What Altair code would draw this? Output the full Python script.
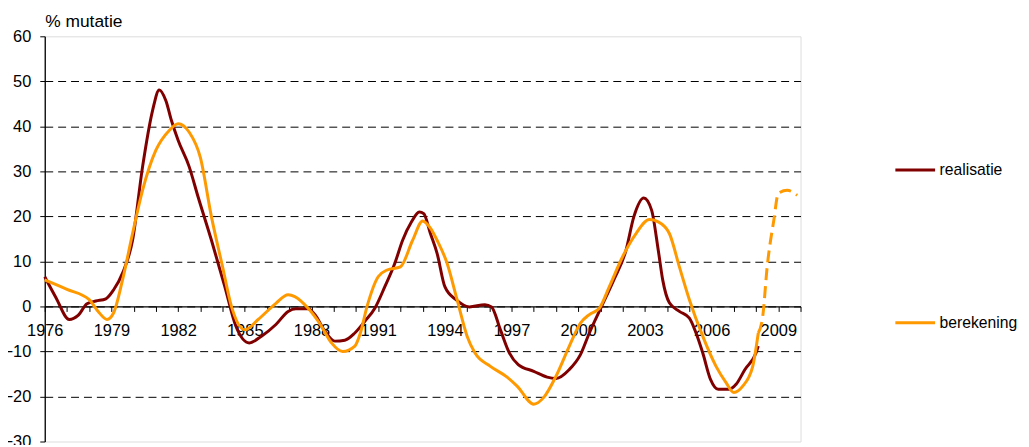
import altair as alt
import pandas as pd

# ---- data ----
real_years = [1976.0, 1976.5, 1977.1, 1977.5, 1977.9, 1978.3, 1978.75, 1979.1, 1979.5, 1979.95,
              1980.4, 1980.85, 1981.15, 1981.45, 1981.7, 1982.0, 1982.5, 1982.9, 1983.5, 1984.1,
              1984.6, 1985.2, 1985.75, 1986.4, 1986.95, 1987.3, 1987.85, 1988.15, 1988.6, 1989.05,
              1989.5, 1989.95, 1990.4, 1990.85, 1991.3, 1991.75, 1992.1, 1992.5, 1992.85, 1993.05,
              1993.35, 1993.65, 1994.0, 1994.5, 1995.1, 1995.8, 1996.1, 1996.5, 1996.9, 1997.3,
              1998.0, 1998.6, 1999.0, 1999.6, 2000.1, 2000.5, 2001.05, 2001.6, 2002.15, 2002.5,
              2002.95, 2003.3, 2003.6, 2003.8, 2004.1, 2004.55, 2005.0, 2005.3, 2005.6, 2005.95,
              2006.3, 2006.8, 2007.1, 2007.5, 2008.0, 2008.1]
real_vals = [6.6, 2.0, -2.9, -2.0, 0.6, 1.2, 1.7, 3.7, 7.4, 14.7,
             31.0, 43.5, 48.1, 45.7, 41.3, 36.9, 31.0, 24.3, 14.7, 4.4,
             -4.4, -8.1, -6.6, -4.0, -1.1, -0.5, -0.5, -1.8, -5.5, -7.7,
             -7.5, -5.9, -3.3, -0.4, 4.4, 9.6, 14.7, 18.8, 21.0, 20.6,
             16.2, 11.8, 4.4, 1.5, -0.1, 0.4, -0.1, -5.2, -10.3, -12.9,
             -14.4, -15.7, -16.0, -14.0, -10.7, -5.9, 0.0, 5.9, 12.5, 19.9,
             24.1, 21.4, 12.5, 5.9, 0.8, -1.1, -2.6, -5.9, -10.3, -16.2,
             -18.4, -18.4, -17.3, -14.0, -10.3, -8.8]

ber_years = [1976.0, 1977.0, 1978.0, 1978.45, 1978.8, 1979.1, 1979.5, 1979.95, 1980.4, 1981.0,
             1981.6, 1982.0, 1982.5, 1983.0, 1983.5, 1984.0, 1984.4, 1985.0, 1985.6, 1986.4,
             1986.95, 1987.25, 1987.85, 1988.4, 1988.9, 1989.4, 1989.95, 1990.2, 1990.5, 1991.0,
             1991.4, 1992.0, 1992.55, 1993.0, 1993.35, 1993.65, 1994.1, 1994.55, 1995.0, 1995.35,
             1996.05, 1996.8, 1997.25, 1998.0, 1998.45, 1999.0, 1999.6, 2000.1, 2000.5, 2000.95,
             2001.4, 2002.0, 2002.6, 2003.2, 2003.6, 2004.1, 2004.55, 2005.0, 2005.6, 2006.2,
             2006.65, 2007.0, 2007.4, 2007.85, 2008.1]
ber_vals = [5.9, 3.8, 1.5, -1.4, -2.9, -1.4, 5.9, 16.2, 25.8, 34.7,
            39.1, 40.6, 38.7, 33.1, 19.9, 8.8, 0.0, -5.2, -2.9, 0.7,
            2.6, 2.2, -0.4, -4.0, -8.1, -10.0, -8.8, -5.9, 0.0, 6.6,
            8.1, 8.8, 14.7, 19.0, 17.4, 14.7, 9.6, 1.5, -6.6, -10.3,
            -13.3, -15.7, -17.7, -21.7, -20.2, -15.5, -8.8, -3.7, -1.8, -0.4,
            4.4, 11.1, 16.2, 19.3, 18.8, 16.2, 8.8, 1.5, -6.6, -13.3,
            -16.9, -19.1, -17.7, -13.3, -5.9]

proj_years = [2008.1, 2008.3, 2008.5, 2008.8, 2009.0, 2009.4, 2009.85]
proj_vals = [-5.9, -2.2, 8.8, 19.2, 25.1, 25.8, 24.7]

series = ["realisatie", "berekening"]
colors = ["#800000", "#FF9900"]
x_ticks = list(range(1976, 2011))
y_ticks = list(range(-30, 61, 10))

FONT = "Liberation Sans"
W, H = 761, 408

df_main = pd.concat([
    pd.DataFrame({"jaar": real_years, "waarde": real_vals, "reeks": series[0]}),
    pd.DataFrame({"jaar": ber_years, "waarde": ber_vals, "reeks": series[1]}),
])
df_proj = pd.DataFrame({"jaar": proj_years, "waarde": proj_vals})

x_enc = alt.X("jaar:Q",
              scale=alt.Scale(domain=[1976, 2010], nice=False, zero=False),
              axis=alt.Axis(values=x_ticks, title=None,
                            labelExpr="(datum.value - 1976) % 3 == 0 ? datum.value : ''",
                            offset=-H / 3, tickSize=5, labelPadding=11,
                            labelFont=FONT, labelFontSize=16.5, labelColor="black",
                            domainColor="black", domainWidth=1.3, tickColor="black",
                            tickWidth=1, labelFlush=False, labelOverlap=False, grid=False))
y_enc = alt.Y("waarde:Q",
              scale=alt.Scale(domain=[-30, 60], nice=False),
              axis=alt.Axis(values=y_ticks, title="% mutatie", titleAngle=0, titleX=0, titleY=-9.5,
                            titleAlign="left", titleBaseline="alphabetic", titleFont=FONT,
                            titleFontSize=17.5, titleFontWeight="normal", titleColor="black",
                            tickSize=5, labelPadding=9, labelFont=FONT, labelFontSize=16.5,
                            labelColor="black", domainColor="black", domainWidth=1.3,
                            tickColor="black", grid=True, gridColor="black", gridDash=[8, 5],
                            gridWidth=1,
                            gridOpacity={"condition": {"test": "datum.value == 60 || datum.value == -30",
                                                       "value": 0}, "value": 1}))

main = alt.Chart(df_main).mark_line(strokeWidth=3, interpolate="monotone").encode(
    x=x_enc, y=y_enc,
    color=alt.Color("reeks:N", scale=alt.Scale(domain=series, range=colors),
                    legend=alt.Legend(title=None, orient="none", legendX=855, legendY=113,
                                      symbolType="stroke", symbolSize=1600, symbolStrokeWidth=3,
                                      labelFont=FONT, labelFontSize=15.8, labelColor="black",
                                      labelOffset=3, rowPadding=124, padding=0)),
    detail="reeks:N",
)

proj = alt.Chart(df_proj).mark_line(strokeWidth=3, interpolate="monotone",
                                    strokeDash=[12, 6], color=colors[1]).encode(x=x_enc, y=y_enc)

chart = alt.layer(main, proj).properties(
    width=W, height=H,
    autosize=alt.AutoSizeParams(type="none"),
    padding={"left": 37, "top": 27, "right": 222, "bottom": 2},
).configure_view(stroke="#8c8c8c", strokeWidth=1).configure(background="white")

chart.save("out.html", embed_options={"renderer": "svg", "actions": False})
